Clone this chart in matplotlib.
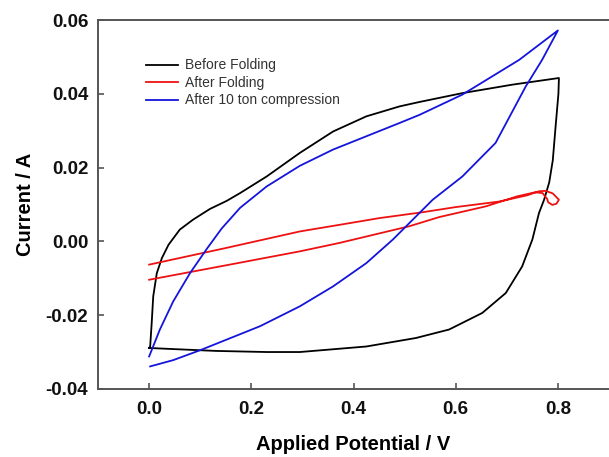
import matplotlib
matplotlib.use("Agg")
import matplotlib.pyplot as plt

plt.rcParams['font.family'] = ['Liberation Sans', 'DejaVu Sans']

# Before Folding (closed CV loop)
before_x = [0.0, 0.002, 0.005, 0.008, 0.015, 0.025, 0.038, 0.06, 0.086, 0.119, 0.152,
            0.178, 0.23, 0.295, 0.36, 0.425, 0.49, 0.529, 0.613, 0.711, 0.802,
            0.801, 0.796, 0.790, 0.783, 0.773, 0.763, 0.75, 0.73, 0.698, 0.652,
            0.587, 0.522, 0.425, 0.295, 0.23, 0.131, 0.047, 0.0]
before_y = [-0.0289, -0.0285, -0.0221, -0.0149, -0.0086, -0.0045, -0.0009, 0.0032, 0.0059,
            0.0088, 0.0110, 0.0131, 0.0176, 0.0240, 0.0298, 0.0339, 0.0366, 0.0378, 0.0402,
            0.0425, 0.0443,
            0.040, 0.032, 0.022, 0.016, 0.0113, 0.0077, 0.0005, -0.0068, -0.0140, -0.0194,
            -0.0239, -0.0262, -0.0285, -0.0300, -0.0300, -0.0297, -0.0292, -0.0289]

# After Folding
after_x = [0.0, 0.15, 0.295, 0.373, 0.45, 0.535, 0.6, 0.685, 0.74, 0.763, 0.776,
           0.79, 0.802, 0.797, 0.789, 0.781, 0.779, 0.770, 0.755,
           0.72, 0.659, 0.568, 0.509, 0.373, 0.295, 0.15, 0.0]
after_y = [-0.0063, -0.0018, 0.0027, 0.0045, 0.0063, 0.0079, 0.0093, 0.0108, 0.0125,
           0.0136, 0.0137, 0.0130, 0.0113, 0.0102, 0.0099, 0.0106, 0.0115, 0.0131, 0.0133,
           0.0122, 0.0095, 0.0066, 0.0041, -0.0004, -0.0027, -0.0065, -0.0104]

# After 10 ton compression
comp_x = [0.0, 0.021, 0.047, 0.08, 0.113, 0.142, 0.178, 0.23, 0.295, 0.36, 0.425,
          0.49, 0.529, 0.613, 0.724, 0.80,
          0.769, 0.737, 0.678, 0.613, 0.555, 0.516, 0.477, 0.425, 0.36, 0.295, 0.217,
          0.1, 0.047, 0.002]
comp_y = [-0.0312, -0.0239, -0.0163, -0.0086, -0.0020, 0.0035, 0.0091, 0.0149, 0.0205,
          0.0249, 0.0285, 0.0321, 0.0343, 0.0398, 0.0492, 0.0572,
          0.0492, 0.0420, 0.0267, 0.0176, 0.0113, 0.0059, 0.0005, -0.0059, -0.0122,
          -0.0176, -0.0230, -0.0295, -0.0322, -0.0339]

xticks = [0.0, 0.2, 0.4, 0.6, 0.8]
yticks = [-0.04, -0.02, 0.00, 0.02, 0.04, 0.06]

fig = plt.figure(figsize=(6.09, 4.57), dpi=100)
ax = fig.add_axes([0.161, 0.149, 0.839, 0.807])

ax.plot(before_x, before_y, color='black', lw=1.3, label='Before Folding')
ax.plot(after_x, after_y, color='#ee1111', lw=1.3, label='After Folding')
ax.plot(comp_x, comp_y, color='#1414dc', lw=1.3, label='After 10 ton compression')

ax.set_xlim(-0.1, 0.9)
ax.set_ylim(-0.04, 0.06)
ax.set_xticks(xticks)
ax.set_xticklabels([f"{v:.1f}" for v in xticks])
ax.set_yticks(yticks)
ax.set_yticklabels([f"{v:.2f}" for v in yticks])

for s in ['left', 'top', 'bottom']:
    ax.spines[s].set_color('#555555')
    ax.spines[s].set_linewidth(1.4)
ax.spines['right'].set_visible(False)

ax.tick_params(direction='in', length=4, width=1.2, color='#555555',
               labelsize=13.5, labelcolor='#111111')
ax.tick_params(axis='x', pad=9)
ax.tick_params(axis='y', pad=7)
for lab in ax.get_xticklabels() + ax.get_yticklabels():
    lab.set_fontweight('bold')

ax.set_xlabel('Applied Potential / V', fontsize=14.5, fontweight='bold', labelpad=12)
ax.set_ylabel('Current / A', fontsize=14.5, fontweight='bold', labelpad=8)

leg = ax.legend(loc='upper left', bbox_to_anchor=(0.07, 0.93), frameon=False,
                fontsize=10, handlelength=2.3, handletextpad=0.5, labelspacing=0.25)
for t in leg.get_texts():
    t.set_color('#333333')

fig.savefig('out.png', dpi=100)
